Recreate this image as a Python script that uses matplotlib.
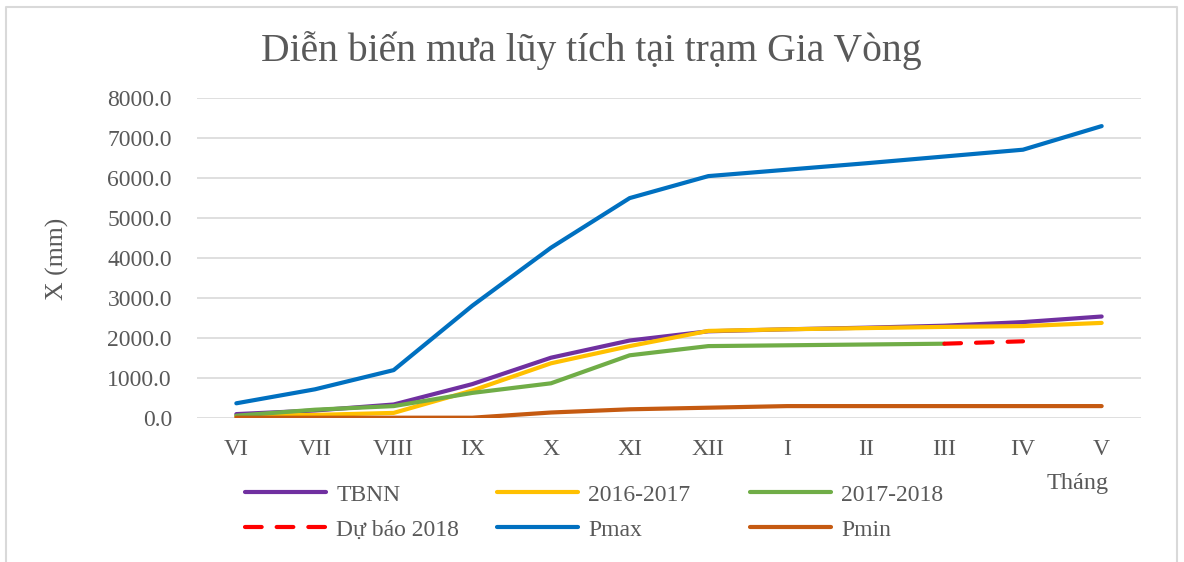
import matplotlib
matplotlib.use("Agg")
import matplotlib.pyplot as plt
import numpy as np
from matplotlib.lines import Line2D

nan = np.nan

# Tháng (mùa mưa bắt đầu từ tháng VI)
months = ["VI", "VII", "VIII", "IX", "X", "XI", "XII", "I", "II", "III", "IV", "V"]

# Lượng mưa lũy tích (mm)
tbnn = [90, 180, 330, 840, 1500, 1930, 2160, 2210, 2250, 2300, 2390, 2530]
y2016_2017 = [40, 70, 120, 680, 1360, 1790, 2170, 2210, 2240, 2270, 2290, 2370]
y2017_2018 = [50, 200, 290, 620, 860, 1560, 1790, 1810, 1830, 1850, nan, nan]
du_bao_2018 = [nan, nan, nan, nan, nan, nan, nan, nan, nan, 1850, 1910, nan]
pmax = [360, 710, 1190, 2800, 4250, 5490, 6040, 6200, 6360, 6530, 6700, 7290]
pmin = [0, 0, 0, 0, 130, 210, 250, 290, 290, 290, 290, 290]

series = [
    ("TBNN", tbnn, "#7030A0", "-"),
    ("2016-2017", y2016_2017, "#FFC000", "-"),
    ("2017-2018", y2017_2018, "#70AD47", "-"),
    ("Dự báo 2018", du_bao_2018, "#FF0000", "--"),
    ("Pmax", pmax, "#0070C0", "-"),
    ("Pmin", pmin, "#C55A11", "-"),
]

plt.rcParams["font.family"] = ["Liberation Serif", "DejaVu Serif"]
text_color = "#595959"
W, H = 1184, 562

fig = plt.figure(figsize=(W / 100, H / 100), dpi=100)
ax = fig.add_axes([197 / W, 1 - 417.7 / H, (1141 - 197) / W, (417.7 - 97.7) / H])

x = np.arange(len(months))
handles = []
for name, values, color, style in series:
    if style == "--":
        line, = ax.plot(x, values, color=color, lw=3, linestyle=(0, (4.0, 3.6)),
                        dash_capstyle="round", solid_capstyle="round", label=name)
    else:
        line, = ax.plot(x, values, color=color, lw=3, solid_capstyle="round",
                        solid_joinstyle="round", label=name)
    handles.append(line)

ax.set_xlim(-0.5, len(months) - 0.5)
ax.set_ylim(0, 8000)
ax.set_yticks(np.arange(0, 8001, 1000))
ax.set_yticklabels(["%.1f" % v for v in np.arange(0, 8001, 1000)])
ax.set_xticks(x)
ax.set_xticklabels(months)
ax.tick_params(axis="y", length=0, pad=18, labelsize=17, labelcolor=text_color)
ax.tick_params(axis="x", length=0, pad=15, labelsize=17, labelcolor=text_color)
ax.grid(axis="y", color="#D9D9D9", lw=1.2)
ax.set_axisbelow(True)
for s in ax.spines.values():
    s.set_visible(False)

fig.text(591 / W, 1 - 50 / H, "Diễn biến mưa lũy tích tại trạm Gia Vòng",
         ha="center", va="center", fontsize=28.5, color=text_color)
fig.text(57 / W, 1 - 259 / H, "X (mm)", rotation=90, ha="center", va="center",
         fontsize=18.5, color=text_color)
fig.text(1078 / W, 1 - 484 / H, "Tháng", ha="center", va="center",
         fontsize=17.5, color=text_color)

# chú giải: 3 cột, xếp theo hàng như Excel
col_x = [245, 497, 750]
for i, cx in enumerate(col_x):
    hs = [handles[i], handles[i + 3]]
    leg = fig.legend(hs, [h.get_label() for h in hs], loc="upper left",
                     bbox_to_anchor=(cx / W, 1 - 484 / H), frameon=False,
                     fontsize=17, handlelength=3.45, handletextpad=0.42,
                     labelspacing=0.57, borderpad=0, borderaxespad=0)
    for t in leg.get_texts():
        t.set_color(text_color)

# khung viền biểu đồ
fig.add_artist(Line2D([5.5 / W, 5.5 / W, 1176.5 / W, 1176.5 / W],
                      [0, 1 - 7 / H, 1 - 7 / H, 0], transform=fig.transFigure,
                      color="#D9D9D9", lw=1.5))

fig.savefig("out.png", dpi=100)
